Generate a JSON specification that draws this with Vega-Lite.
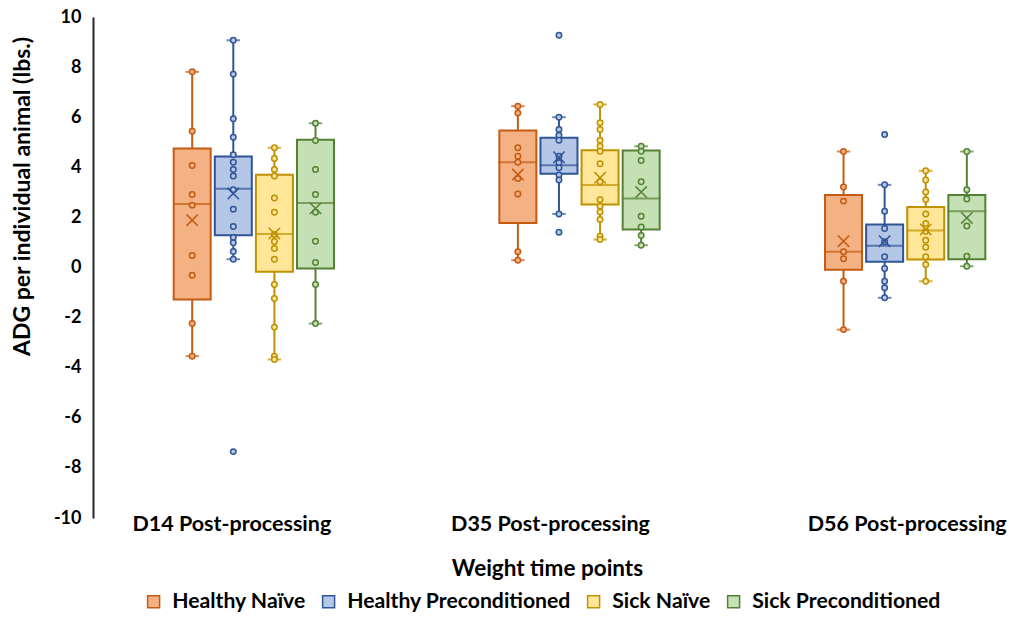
{
  "$schema": "https://vega.github.io/schema/vega-lite/v6.json",
  "autosize": "none",
  "padding": {"left": 93, "top": 17, "right": 0, "bottom": 101},
  "width": 916,
  "height": 501,
  "background": "white",
  "config": {"view": {"stroke": null}, "font": "Lato"},
  "datasets": {
    "boxes": [
      {"time": "D14 Post-processing", "group": "Healthy Naïve", "lo": -3.54, "q1": -1.28, "med": 2.53, "q3": 4.75, "hi": 7.81, "mean": 1.89},
      {"time": "D14 Post-processing", "group": "Healthy Preconditioned", "lo": 0.33, "q1": 1.29, "med": 3.14, "q3": 4.43, "hi": 9.07, "mean": 2.95},
      {"time": "D14 Post-processing", "group": "Sick Naïve", "lo": -3.67, "q1": -0.17, "med": 1.34, "q3": 3.70, "hi": 4.78, "mean": 1.36},
      {"time": "D14 Post-processing", "group": "Sick Preconditioned", "lo": -2.24, "q1": -0.04, "med": 2.57, "q3": 5.10, "hi": 5.76, "mean": 2.36},
      {"time": "D35 Post-processing", "group": "Healthy Naïve", "lo": 0.29, "q1": 1.78, "med": 4.20, "q3": 5.47, "hi": 6.44, "mean": 3.71},
      {"time": "D35 Post-processing", "group": "Healthy Preconditioned", "lo": 2.14, "q1": 3.74, "med": 4.08, "q3": 5.18, "hi": 6.00, "mean": 4.40},
      {"time": "D35 Post-processing", "group": "Sick Naïve", "lo": 1.12, "q1": 2.51, "med": 3.29, "q3": 4.68, "hi": 6.51, "mean": 3.58},
      {"time": "D35 Post-processing", "group": "Sick Preconditioned", "lo": 0.89, "q1": 1.52, "med": 2.75, "q3": 4.67, "hi": 4.84, "mean": 3.01},
      {"time": "D56 Post-processing", "group": "Healthy Naïve", "lo": -2.48, "q1": -0.09, "med": 0.63, "q3": 2.89, "hi": 4.63, "mean": 1.05},
      {"time": "D56 Post-processing", "group": "Healthy Preconditioned", "lo": -1.21, "q1": 0.23, "med": 0.87, "q3": 1.72, "hi": 3.30, "mean": 1.05},
      {"time": "D56 Post-processing", "group": "Sick Naïve", "lo": -0.55, "q1": 0.32, "med": 1.48, "q3": 2.42, "hi": 3.86, "mean": 1.52},
      {"time": "D56 Post-processing", "group": "Sick Preconditioned", "lo": 0.05, "q1": 0.33, "med": 2.25, "q3": 2.89, "hi": 4.63, "mean": 1.98}
    ],
    "points": [
      {"time": "D14 Post-processing", "group": "Healthy Naïve", "v": 7.81},
      {"time": "D14 Post-processing", "group": "Healthy Naïve", "v": 5.44},
      {"time": "D14 Post-processing", "group": "Healthy Naïve", "v": 4.07},
      {"time": "D14 Post-processing", "group": "Healthy Naïve", "v": 2.91},
      {"time": "D14 Post-processing", "group": "Healthy Naïve", "v": 2.49},
      {"time": "D14 Post-processing", "group": "Healthy Naïve", "v": 0.48},
      {"time": "D14 Post-processing", "group": "Healthy Naïve", "v": -0.31},
      {"time": "D14 Post-processing", "group": "Healthy Naïve", "v": -2.24},
      {"time": "D14 Post-processing", "group": "Healthy Naïve", "v": -3.54},
      {"time": "D14 Post-processing", "group": "Healthy Preconditioned", "v": 9.07},
      {"time": "D14 Post-processing", "group": "Healthy Preconditioned", "v": 7.72},
      {"time": "D14 Post-processing", "group": "Healthy Preconditioned", "v": 5.94},
      {"time": "D14 Post-processing", "group": "Healthy Preconditioned", "v": 5.20},
      {"time": "D14 Post-processing", "group": "Healthy Preconditioned", "v": 4.50},
      {"time": "D14 Post-processing", "group": "Healthy Preconditioned", "v": 4.20},
      {"time": "D14 Post-processing", "group": "Healthy Preconditioned", "v": 3.91},
      {"time": "D14 Post-processing", "group": "Healthy Preconditioned", "v": 3.65},
      {"time": "D14 Post-processing", "group": "Healthy Preconditioned", "v": 3.10},
      {"time": "D14 Post-processing", "group": "Healthy Preconditioned", "v": 2.33},
      {"time": "D14 Post-processing", "group": "Healthy Preconditioned", "v": 1.64},
      {"time": "D14 Post-processing", "group": "Healthy Preconditioned", "v": 1.20},
      {"time": "D14 Post-processing", "group": "Healthy Preconditioned", "v": 0.99},
      {"time": "D14 Post-processing", "group": "Healthy Preconditioned", "v": 0.64},
      {"time": "D14 Post-processing", "group": "Healthy Preconditioned", "v": 0.33},
      {"time": "D14 Post-processing", "group": "Healthy Preconditioned", "v": -7.35},
      {"time": "D14 Post-processing", "group": "Sick Naïve", "v": 4.78},
      {"time": "D14 Post-processing", "group": "Sick Naïve", "v": 4.35},
      {"time": "D14 Post-processing", "group": "Sick Naïve", "v": 3.91},
      {"time": "D14 Post-processing", "group": "Sick Naïve", "v": 3.65},
      {"time": "D14 Post-processing", "group": "Sick Naïve", "v": 2.77},
      {"time": "D14 Post-processing", "group": "Sick Naïve", "v": 2.21},
      {"time": "D14 Post-processing", "group": "Sick Naïve", "v": 1.32},
      {"time": "D14 Post-processing", "group": "Sick Naïve", "v": 1.04},
      {"time": "D14 Post-processing", "group": "Sick Naïve", "v": 0.76},
      {"time": "D14 Post-processing", "group": "Sick Naïve", "v": 0.33},
      {"time": "D14 Post-processing", "group": "Sick Naïve", "v": -0.68},
      {"time": "D14 Post-processing", "group": "Sick Naïve", "v": -1.24},
      {"time": "D14 Post-processing", "group": "Sick Naïve", "v": -2.38},
      {"time": "D14 Post-processing", "group": "Sick Naïve", "v": -3.54},
      {"time": "D14 Post-processing", "group": "Sick Naïve", "v": -3.67},
      {"time": "D14 Post-processing", "group": "Sick Preconditioned", "v": 5.76},
      {"time": "D14 Post-processing", "group": "Sick Preconditioned", "v": 5.07},
      {"time": "D14 Post-processing", "group": "Sick Preconditioned", "v": 3.91},
      {"time": "D14 Post-processing", "group": "Sick Preconditioned", "v": 2.91},
      {"time": "D14 Post-processing", "group": "Sick Preconditioned", "v": 2.21},
      {"time": "D14 Post-processing", "group": "Sick Preconditioned", "v": 1.05},
      {"time": "D14 Post-processing", "group": "Sick Preconditioned", "v": 0.20},
      {"time": "D14 Post-processing", "group": "Sick Preconditioned", "v": -0.68},
      {"time": "D14 Post-processing", "group": "Sick Preconditioned", "v": -2.24},
      {"time": "D35 Post-processing", "group": "Healthy Naïve", "v": 6.44},
      {"time": "D35 Post-processing", "group": "Healthy Naïve", "v": 6.17},
      {"time": "D35 Post-processing", "group": "Healthy Naïve", "v": 4.78},
      {"time": "D35 Post-processing", "group": "Healthy Naïve", "v": 4.44},
      {"time": "D35 Post-processing", "group": "Healthy Naïve", "v": 4.20},
      {"time": "D35 Post-processing", "group": "Healthy Naïve", "v": 3.55},
      {"time": "D35 Post-processing", "group": "Healthy Naïve", "v": 2.93},
      {"time": "D35 Post-processing", "group": "Healthy Naïve", "v": 0.63},
      {"time": "D35 Post-processing", "group": "Healthy Naïve", "v": 0.29},
      {"time": "D35 Post-processing", "group": "Healthy Preconditioned", "v": 9.27},
      {"time": "D35 Post-processing", "group": "Healthy Preconditioned", "v": 6.00},
      {"time": "D35 Post-processing", "group": "Healthy Preconditioned", "v": 5.51},
      {"time": "D35 Post-processing", "group": "Healthy Preconditioned", "v": 5.28},
      {"time": "D35 Post-processing", "group": "Healthy Preconditioned", "v": 5.08},
      {"time": "D35 Post-processing", "group": "Healthy Preconditioned", "v": 4.44},
      {"time": "D35 Post-processing", "group": "Healthy Preconditioned", "v": 4.18},
      {"time": "D35 Post-processing", "group": "Healthy Preconditioned", "v": 3.98},
      {"time": "D35 Post-processing", "group": "Healthy Preconditioned", "v": 3.69},
      {"time": "D35 Post-processing", "group": "Healthy Preconditioned", "v": 3.49},
      {"time": "D35 Post-processing", "group": "Healthy Preconditioned", "v": 2.14},
      {"time": "D35 Post-processing", "group": "Healthy Preconditioned", "v": 1.41},
      {"time": "D35 Post-processing", "group": "Sick Naïve", "v": 6.51},
      {"time": "D35 Post-processing", "group": "Sick Naïve", "v": 5.78},
      {"time": "D35 Post-processing", "group": "Sick Naïve", "v": 5.51},
      {"time": "D35 Post-processing", "group": "Sick Naïve", "v": 5.08},
      {"time": "D35 Post-processing", "group": "Sick Naïve", "v": 4.84},
      {"time": "D35 Post-processing", "group": "Sick Naïve", "v": 4.64},
      {"time": "D35 Post-processing", "group": "Sick Naïve", "v": 4.14},
      {"time": "D35 Post-processing", "group": "Sick Naïve", "v": 3.42},
      {"time": "D35 Post-processing", "group": "Sick Naïve", "v": 2.71},
      {"time": "D35 Post-processing", "group": "Sick Naïve", "v": 2.45},
      {"time": "D35 Post-processing", "group": "Sick Naïve", "v": 2.22},
      {"time": "D35 Post-processing", "group": "Sick Naïve", "v": 1.92},
      {"time": "D35 Post-processing", "group": "Sick Naïve", "v": 1.25},
      {"time": "D35 Post-processing", "group": "Sick Naïve", "v": 1.12},
      {"time": "D35 Post-processing", "group": "Sick Preconditioned", "v": 4.84},
      {"time": "D35 Post-processing", "group": "Sick Preconditioned", "v": 4.64},
      {"time": "D35 Post-processing", "group": "Sick Preconditioned", "v": 4.27},
      {"time": "D35 Post-processing", "group": "Sick Preconditioned", "v": 3.42},
      {"time": "D35 Post-processing", "group": "Sick Preconditioned", "v": 2.05},
      {"time": "D35 Post-processing", "group": "Sick Preconditioned", "v": 1.62},
      {"time": "D35 Post-processing", "group": "Sick Preconditioned", "v": 1.28},
      {"time": "D35 Post-processing", "group": "Sick Preconditioned", "v": 0.89},
      {"time": "D56 Post-processing", "group": "Healthy Naïve", "v": 4.63},
      {"time": "D56 Post-processing", "group": "Healthy Naïve", "v": 3.21},
      {"time": "D56 Post-processing", "group": "Healthy Naïve", "v": 2.65},
      {"time": "D56 Post-processing", "group": "Healthy Naïve", "v": 0.63},
      {"time": "D56 Post-processing", "group": "Healthy Naïve", "v": 0.35},
      {"time": "D56 Post-processing", "group": "Healthy Naïve", "v": -0.55},
      {"time": "D56 Post-processing", "group": "Healthy Naïve", "v": -2.48},
      {"time": "D56 Post-processing", "group": "Healthy Preconditioned", "v": 5.31},
      {"time": "D56 Post-processing", "group": "Healthy Preconditioned", "v": 3.30},
      {"time": "D56 Post-processing", "group": "Healthy Preconditioned", "v": 2.25},
      {"time": "D56 Post-processing", "group": "Healthy Preconditioned", "v": 1.56},
      {"time": "D56 Post-processing", "group": "Healthy Preconditioned", "v": 1.03},
      {"time": "D56 Post-processing", "group": "Healthy Preconditioned", "v": 0.43},
      {"time": "D56 Post-processing", "group": "Healthy Preconditioned", "v": -0.04},
      {"time": "D56 Post-processing", "group": "Healthy Preconditioned", "v": -0.55},
      {"time": "D56 Post-processing", "group": "Healthy Preconditioned", "v": -0.81},
      {"time": "D56 Post-processing", "group": "Healthy Preconditioned", "v": -1.21},
      {"time": "D56 Post-processing", "group": "Sick Naïve", "v": 3.86},
      {"time": "D56 Post-processing", "group": "Sick Naïve", "v": 3.49},
      {"time": "D56 Post-processing", "group": "Sick Naïve", "v": 3.01},
      {"time": "D56 Post-processing", "group": "Sick Naïve", "v": 2.71},
      {"time": "D56 Post-processing", "group": "Sick Naïve", "v": 2.14},
      {"time": "D56 Post-processing", "group": "Sick Naïve", "v": 1.76},
      {"time": "D56 Post-processing", "group": "Sick Naïve", "v": 1.45},
      {"time": "D56 Post-processing", "group": "Sick Naïve", "v": 1.09},
      {"time": "D56 Post-processing", "group": "Sick Naïve", "v": 0.81},
      {"time": "D56 Post-processing", "group": "Sick Naïve", "v": 0.43},
      {"time": "D56 Post-processing", "group": "Sick Naïve", "v": 0.12},
      {"time": "D56 Post-processing", "group": "Sick Naïve", "v": -0.55},
      {"time": "D56 Post-processing", "group": "Sick Preconditioned", "v": 4.63},
      {"time": "D56 Post-processing", "group": "Sick Preconditioned", "v": 3.10},
      {"time": "D56 Post-processing", "group": "Sick Preconditioned", "v": 2.73},
      {"time": "D56 Post-processing", "group": "Sick Preconditioned", "v": 1.66},
      {"time": "D56 Post-processing", "group": "Sick Preconditioned", "v": 0.45},
      {"time": "D56 Post-processing", "group": "Sick Preconditioned", "v": 0.05}
    ]
  },
  "encoding": {
    "x": {
      "field": "time", "type": "nominal",
      "scale": {"domain": ["D14 Post-processing", "D35 Post-processing", "D56 Post-processing"], "range": [-2, 975], "paddingInner": 0, "paddingOuter": 0},
      "axis": {
        "title": "Weight time points", "labelAngle": 0, "domain": false, "ticks": false, "labelLimit": 0, "labelBound": false, "labelOverlap": false,
        "labelFont": "Lato", "labelFontWeight": "bold", "labelFontSize": 21.5, "labelColor": "#000000", "labelPadding": -5,
        "labelOffset": {"condition": [{"test": "datum.value === 'D14 Post-processing'", "value": -22}, {"test": "datum.value === 'D35 Post-processing'", "value": -29}], "value": 2},
        "titleFont": "Lato", "titleFontWeight": "bold", "titleFontSize": 22.5, "titleColor": "#000000", "titlePadding": 23, "titleX": 454
      }
    },
    "xOffset": {
      "field": "group", "type": "nominal",
      "scale": {"domain": ["Healthy Naïve", "Healthy Preconditioned", "Sick Naïve", "Sick Preconditioned"], "range": [82.7, 243], "paddingInner": 0.1, "paddingOuter": 0}
    },
    "stroke": {
      "field": "group", "type": "nominal",
      "scale": {"domain": ["Healthy Naïve", "Healthy Preconditioned", "Sick Naïve", "Sick Preconditioned"], "range": ["#C55A11", "#2F5597", "#BF9000", "#548235"]},
      "legend": {
        "title": null, "orient": "none", "legendX": 50, "legendY": 574, "direction": "horizontal", "symbolType": "square", "symbolSize": 144,
        "symbolStrokeWidth": 1.5, "symbolOpacity": 1, "labelFont": "Lato", "labelFontWeight": "bold", "labelFontSize": 21.2, "labelColor": "#000000", "labelLimit": 0,
        "columnPadding": 12, "labelOffset": 8
      }
    }
  },
  "layer": [
    {
      "data": {"name": "boxes"},
      "mark": {"type": "rule", "strokeWidth": 2},
      "encoding": {
        "y": {
          "field": "lo", "type": "quantitative",
          "scale": {"domain": [-10, 10], "nice": false, "zero": false},
          "axis": {
            "title": "ADG per individual animal (lbs.)", "values": [-10, -8, -6, -4, -2, 0, 2, 4, 6, 8, 10],
            "labelExpr": "'' + datum.value",
            "grid": false, "ticks": false, "domainColor": "#262626", "domainWidth": 2,
            "labelFont": "Lato", "labelFontWeight": "bold", "labelFontSize": 18, "labelColor": "#000000", "labelPadding": 12,
            "titleFont": "Lato", "titleFontWeight": "bold", "titleFontSize": 23, "titleColor": "#000000",
            "titleX": -71, "titleY": 179, "titleAngle": -90, "titleAlign": "center", "titleBaseline": "middle"
          }
        },
        "y2": {"field": "hi"}
      }
    },
    {
      "data": {"name": "boxes"},
      "mark": {"type": "bar", "strokeWidth": 2},
      "encoding": {
        "y": {"field": "q1", "type": "quantitative"},
        "y2": {"field": "q3"},
        "fill": {
          "field": "group", "type": "nominal",
          "scale": {"domain": ["Healthy Naïve", "Healthy Preconditioned", "Sick Naïve", "Sick Preconditioned"], "range": ["#F4B183", "#B4C7E7", "#FFE699", "#C5E0B4"]},
          "legend": {
            "title": null, "orient": "none", "legendX": 50, "legendY": 574, "direction": "horizontal", "symbolType": "square", "symbolSize": 144,
            "symbolStrokeWidth": 1.5, "symbolOpacity": 1, "labelFont": "Lato", "labelFontWeight": "bold", "labelFontSize": 21.2, "labelColor": "#000000", "labelLimit": 0,
            "columnPadding": 12, "labelOffset": 8
          }
        }
      }
    },
    {
      "data": {"name": "boxes"},
      "mark": {"type": "tick", "thickness": 0.5, "size": 37, "filled": false, "strokeWidth": 1.5},
      "encoding": {
        "y": {"field": "med", "type": "quantitative"}
      }
    },
    {
      "data": {"name": "boxes"},
      "mark": {"type": "tick", "thickness": 0.5, "size": 12, "filled": false, "strokeWidth": 1.5},
      "encoding": {
        "y": {"field": "lo", "type": "quantitative"}
      }
    },
    {
      "data": {"name": "boxes"},
      "mark": {"type": "tick", "thickness": 0.5, "size": 12, "filled": false, "strokeWidth": 1.5},
      "encoding": {
        "y": {"field": "hi", "type": "quantitative"}
      }
    },
    {
      "data": {"name": "points"},
      "mark": {"type": "point", "shape": "circle", "filled": true, "size": 30, "strokeWidth": 1.5, "opacity": 1},
      "encoding": {
        "y": {"field": "v", "type": "quantitative"},
        "fill": {"field": "group", "type": "nominal"}
      }
    },
    {
      "data": {"name": "boxes"},
      "mark": {"type": "point", "shape": "M-1,-1L1,1M-1,1L1,-1", "filled": false, "size": 130, "strokeWidth": 1.5, "opacity": 1},
      "encoding": {
        "y": {"field": "mean", "type": "quantitative"}
      }
    }
  ]
}
